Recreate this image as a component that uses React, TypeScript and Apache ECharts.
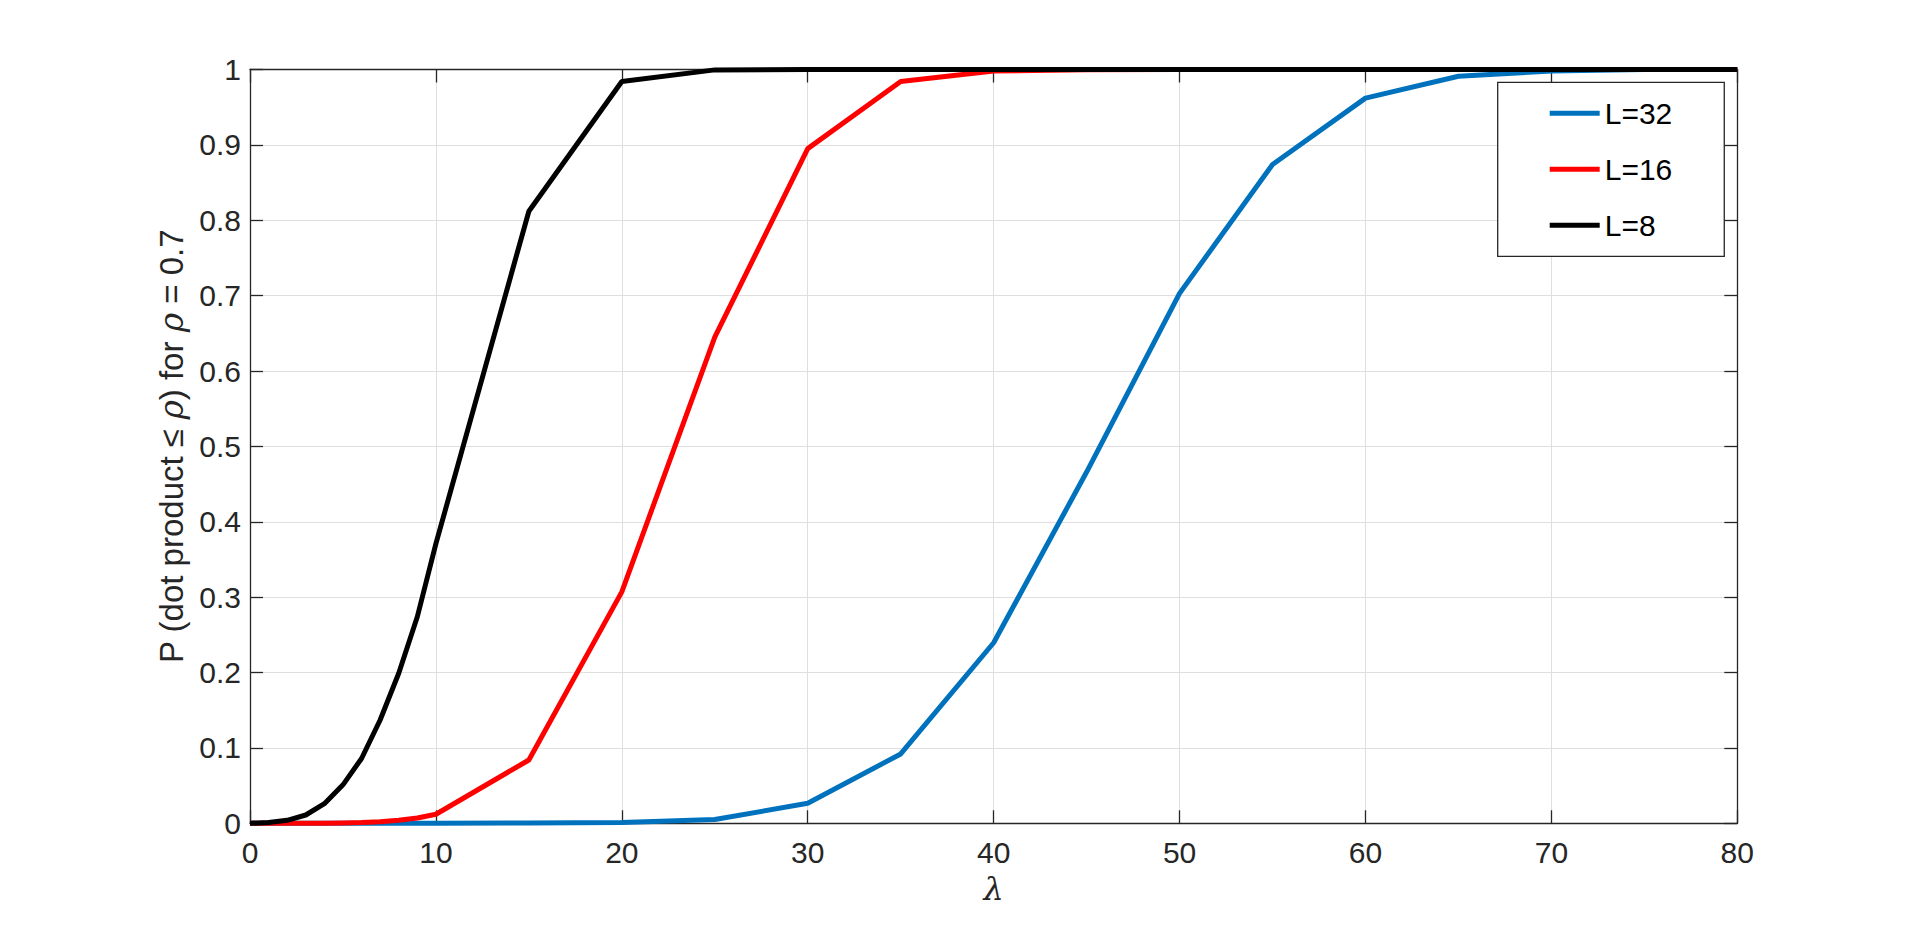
import React, { useEffect, useRef } from "react";
import * as echarts from "echarts";

const lambdaValues = [0, 1, 2, 3, 4, 5, 6, 7, 8, 9, 10, 15, 20, 25, 30, 35, 40, 45, 50, 55, 60, 65, 70, 75, 80];
const pL32 = [0, 0, 0, 0, 0, 0, 0, 0, 0, 0, 0, 0.0003, 0.001, 0.005, 0.0265, 0.092, 0.2395, 0.466, 0.703, 0.874, 0.962, 0.991, 0.998, 1, 1];
const pL16 = [0, 0, 0, 0, 0, 0.0005, 0.001, 0.002, 0.004, 0.007, 0.012, 0.084, 0.307, 0.645, 0.895, 0.984, 0.998, 0.9998, 1, 1, 1, 1, 1, 1, 1];
const pL8 = [0, 0.001, 0.004, 0.011, 0.026, 0.051, 0.086, 0.137, 0.199, 0.274, 0.371, 0.812, 0.984, 0.9995, 1, 1, 1, 1, 1, 1, 1, 1, 1, 1, 1];
const seriesNames = ["L=32", "L=16", "L=8"];
const seriesColors = ["#0072BD", "#FF0000", "#000000"];

const FONT = "'Liberation Sans', Arial, Helvetica, sans-serif";
const SERIF = "'DejaVu Serif', 'Liberation Serif', serif";
const AXIS_COLOR = "#262626";

export default function App() {
  const ref = useRef<HTMLDivElement>(null);
  useEffect(() => {
    if (!ref.current) return;
    const chart = echarts.init(ref.current, null, { renderer: "svg" });
    const toPairs = (ys: number[]) => lambdaValues.map((x, i) => [x, ys[i]]);
    const allData = [pL32, pL16, pL8];
    const axisLine = { show: true, onZero: false, lineStyle: { color: AXIS_COLOR, width: 1.3 } };
    const axisTick = { show: true, inside: true, length: 13, lineStyle: { color: AXIS_COLOR, width: 1.3 } };
    chart.setOption({
      animation: false,
      backgroundColor: "#ffffff",
      grid: { left: 250, top: 69.5, right: 182.7, bottom: 102.7, containLabel: false },
      xAxis: [
        {
          type: "value",
          min: 0,
          max: 80,
          interval: 10,
          position: "bottom",
          axisLine,
          axisTick,
          axisLabel: { fontSize: 30, color: AXIS_COLOR, fontFamily: FONT, margin: 14 },
          splitLine: { show: true, lineStyle: { color: "#dfdfdf", width: 1 } },
          name: "λ",
          nameLocation: "middle",
          nameGap: 50,
          nameTextStyle: { fontSize: 32, fontStyle: "italic", fontFamily: SERIF, color: AXIS_COLOR },
        },
        {
          type: "value",
          min: 0,
          max: 80,
          interval: 10,
          position: "top",
          axisLine,
          axisTick,
          axisLabel: { show: false },
          splitLine: { show: false },
        },
      ],
      yAxis: [
        {
          type: "value",
          min: 0,
          max: 1,
          interval: 0.1,
          position: "left",
          axisLine,
          axisTick,
          axisLabel: { fontSize: 30, color: AXIS_COLOR, fontFamily: FONT, margin: 9 },
          splitLine: { show: true, lineStyle: { color: "#dfdfdf", width: 1 } },
          name: "P (dot product ≤ {i|ρ}) for {i|ρ} = 0.7",
          nameLocation: "middle",
          nameRotate: 90,
          nameGap: 56,
          nameTextStyle: {
            fontSize: 33,
            fontFamily: FONT,
            color: AXIS_COLOR,
            rich: { i: { fontSize: 33, fontStyle: "italic", fontFamily: SERIF, color: AXIS_COLOR } },
          },
        },
        {
          type: "value",
          min: 0,
          max: 1,
          interval: 0.1,
          position: "right",
          axisLine,
          axisTick,
          axisLabel: { show: false },
          splitLine: { show: false },
        },
      ],
      legend: {
        orient: "vertical",
        left: 1497.7,
        top: 82.3,
        padding: [16, 52, 16, 52],
        itemWidth: 50,
        itemHeight: 5,
        itemGap: 26,
        icon: "rect",
        borderColor: AXIS_COLOR,
        borderWidth: 1.3,
        backgroundColor: "#ffffff",
        textStyle: { fontSize: 30, lineHeight: 30, color: "#000000", fontFamily: FONT },
        data: seriesNames,
      },
      series: seriesNames.map((name, k) => ({
        name,
        type: "line",
        xAxisIndex: 0,
        yAxisIndex: 0,
        data: toPairs(allData[k]),
        showSymbol: false,
        symbol: "none",
        clip: false,
        lineStyle: { color: seriesColors[k], width: 5 },
        itemStyle: { color: seriesColors[k] },
        z: 2 + k,
      })),
    });
    return () => chart.dispose();
  }, []);
  return (
    <div
      ref={ref}
      style={{ position: "fixed", left: 0, top: 0, width: "1920px", height: "926px", background: "#fff" }}
    />
  );
}
